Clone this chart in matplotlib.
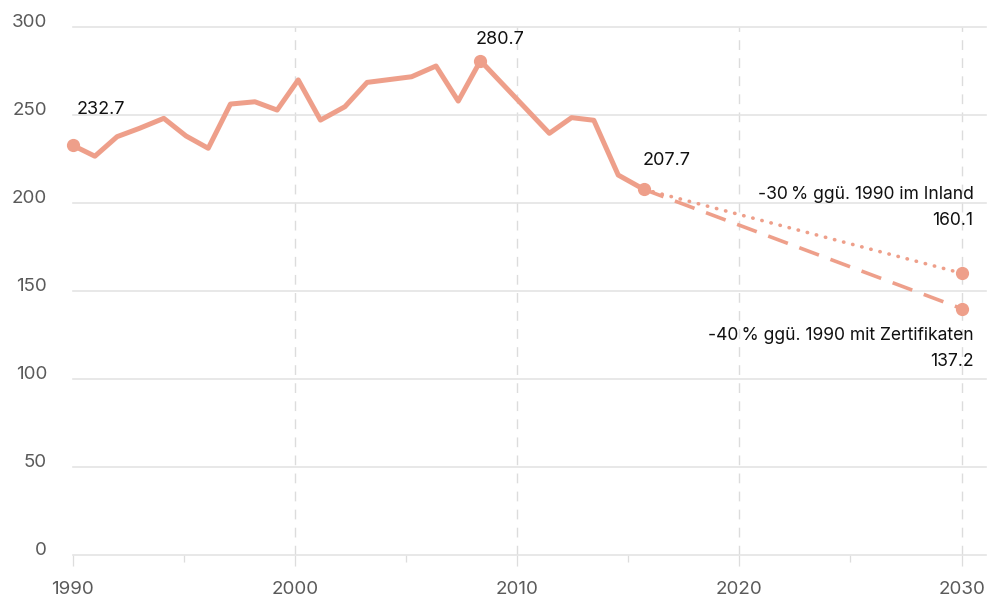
import matplotlib
matplotlib.use("Agg")
import matplotlib.pyplot as plt

# Data
hist_x = [1990.0, 1991.0, 1992.0, 1993.0, 1994.1, 1995.1, 1996.1, 1997.1,
          1998.2, 1999.2, 2000.15, 2001.15, 2002.25, 2003.25, 2005.25,
          2006.35, 2007.35, 2008.35, 2011.45, 2012.45, 2013.45, 2014.55,
          2015.7]
hist_y = [232.7, 226.5, 237.6, 242.3, 248.0, 238.0, 231.0, 256.1,
          257.4, 252.7, 269.8, 247.0, 254.6, 268.4, 271.6,
          277.7, 257.8, 280.7, 239.5, 248.4, 246.9, 215.8,
          207.7]

# highlighted historic points (index into hist_x / hist_y) and their labels
mark_idx = [0, 17, 22]
mark_labels = ["232.7", "280.7", "207.7"]

# 2030 targets
target_year = 2030
target_inland = 160.1
target_cert = 140.0
inland_labels = ["-30\u2009% ggü. 1990 im Inland", "160.1"]
cert_labels = ["-40\u2009% ggü. 1990 mit Zertifikaten", "137.2"]

x_major = [1990, 2000, 2010, 2020, 2030]
x_minor = [1995, 2005, 2015, 2025]
y_ticks = [0, 50, 100, 150, 200, 250, 300]

salmon = "#ee9f8a"
grey_text = "#5a5a5a"

plt.rcParams["font.family"] = ["Inter", "DejaVu Sans"]

fig = plt.figure(figsize=(9.94, 5.99), dpi=100)
ax = fig.add_axes([0.0731, 0.073, 0.992 - 0.0731, 0.8824])
ax.set_xlim(1990, 2031.1)
ax.set_ylim(0, 300)

# historic line
ax.plot(hist_x, hist_y, color=salmon, lw=3.6, solid_joinstyle="round",
        solid_capstyle="round", clip_on=False, zorder=3)

# projections to 2030
start_x, start_y = hist_x[-1], hist_y[-1]
ax.plot([start_x, target_year], [start_y, target_inland], color=salmon,
        lw=2.6, linestyle=(0, (0.1, 2.5)), dash_capstyle="round", zorder=3)
ax.plot([start_x, target_year], [start_y, target_cert], color=salmon,
        lw=2.6, linestyle=(0, (5.8, 3.4)), zorder=3)

# marker dots
mx = [hist_x[i] for i in mark_idx] + [target_year, target_year]
my = [hist_y[i] for i in mark_idx] + [target_inland, target_cert]
ax.plot(mx, my, "o", color=salmon, ms=8.5, clip_on=False, zorder=4)

# labels on historic points
offsets = [(2.9, 22.3), (-3.6, 11.8), (-1.0, 17.3)]
for i, txt, off in zip(mark_idx, mark_labels, offsets):
    ax.annotate(txt, (hist_x[i], hist_y[i]), xytext=off,
                textcoords="offset points", ha="left", va="baseline",
                fontsize=13, color="#111111", annotation_clip=False)

# labels at the 2030 targets
for txt, dy in zip(inland_labels, [53.3, 34.6]):
    ax.annotate(txt, (target_year, target_inland), xytext=(8.6, dy),
                textcoords="offset points", ha="right", va="baseline",
                fontsize=12.6, color="#111111", annotation_clip=False)
for txt, dy in zip(cert_labels, [-22.8, -41.0]):
    ax.annotate(txt, (target_year, target_cert), xytext=(8.6, dy),
                textcoords="offset points", ha="right", va="baseline",
                fontsize=12.6, color="#111111", annotation_clip=False)

# axes styling
for side in ax.spines:
    ax.spines[side].set_visible(False)

ax.set_xticks(x_major)
ax.set_xticks(x_minor, minor=True)
ax.set_xticklabels([str(x) for x in x_major])
ax.tick_params(axis="x", which="major", length=7.9, width=0.9,
               color="#dddddd", labelsize=13.5, labelcolor=grey_text, pad=10.5)
ax.tick_params(axis="x", which="minor", length=4.8, width=0.9,
               color="#dddddd")

ax.set_yticks(y_ticks)
ax.set_yticklabels([str(y) for y in y_ticks])
ax.tick_params(axis="y", length=0, pad=18.5, labelsize=13.5,
               labelcolor=grey_text)
for lbl in ax.get_yticklabels():
    lbl.set_va("baseline")

# grids: solid horizontal, dashed vertical (not at 1990)
ax.yaxis.grid(True, color="#e4e4e4", lw=1.2)
ax.xaxis.grid(True, which="major", color="#dcdcdc", lw=1.0,
              linestyle=(0, (7, 6)))
ax.get_xgridlines()[0].set_visible(False)
for gl in ax.get_ygridlines():
    gl.set_clip_on(False)
ax.set_axisbelow(True)

fig.savefig("out.png", dpi=100)
